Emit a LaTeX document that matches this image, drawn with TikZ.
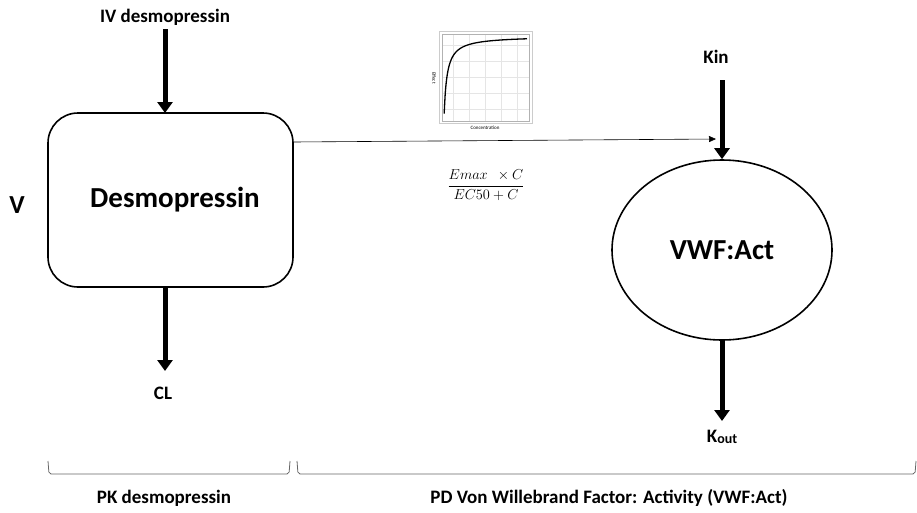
\documentclass[tikz,border=0pt]{standalone}
\usepackage{fontspec}
\setmainfont{Carlito}
\usetikzlibrary{arrows.meta,shapes.geometric}
\begin{document}
\begin{tikzpicture}[x=1pt,y=-1pt,
  lbl/.style={font=\fontsize{19}{22}\selectfont\bfseries},
  big/.style={font=\fontsize{29}{34}\selectfont\bfseries},
  thickarrow/.style={line width=5pt,-{Triangle[width=15pt,length=11pt]}},
  bracket/.style={draw=black!60,line width=0.8pt,rounded corners=2pt}]
\useasboundingbox (0,0) rectangle (917,512);
% PK box
\node[draw,line width=1.6pt,rounded corners=30pt,minimum width=245pt,minimum height=174pt,big] (box) at (170.5,200) {\hspace*{9pt}\raisebox{-3pt}{Desmopressin}};
\node[lbl] (iv) at (165,17) {IV desmopressin};
\coordinate (ivend) at (165,113);
\draw[thickarrow] (165,29) -- (ivend);
\node[big,font=\fontsize{26}{30}\selectfont\bfseries] (v) at (17,205) {V};
\node[lbl] (cl) at (163,393) {CL};
\draw[thickarrow] (165,287) -- (165,371);
% PD ellipse
\node[draw,ellipse,line width=1.6pt,minimum width=220pt,minimum height=180pt,big] (vwf) at (722,250) {VWF:Act};
\node[lbl] (kin) at (716,57) {Kin};
\draw[thickarrow] (722,80) -- (vwf.north);
\node[lbl] (kout) at (722,437) {K{\fontsize{14}{15}\selectfont\raisebox{-1pt}{out}}};
\draw[thickarrow] (vwf.south) -- (722,421);
% connector
\coordinate (conn) at (716,139);
\draw[line width=0.6pt,-{Triangle[width=6pt,length=7pt]}] (293,142) -- (conn);
% small plot
\begin{scope}
\draw[black!20,line width=0.5pt] (439,31) rectangle (532,123);
\foreach \x in {453,469,485,501,517} \draw[black!10,line width=0.3pt] (\x,34) -- (\x,121);
\foreach \y in {45,61,77,93,109} \draw[black!10,line width=0.3pt] (442,\y) -- (529,\y);
\draw[black!30,line width=0.4pt] (442,34) rectangle (529,121);
\draw[line width=1.3pt,domain=0.02:10,samples=80,smooth] plot ({444+8.3*\x},{118-82*(\x/(\x+0.35))});
\node[font=\fontsize{5}{6}\selectfont] (conc) at (485,128) {Concentration};
\node[font=\fontsize{5}{6}\selectfont,rotate=-90] (eff) at (434,78) {Effect};
\end{scope}
% formula
\node (formula) at (486,185) {\fontsize{15}{18}\selectfont$\displaystyle\frac{Emax\ \ \times C}{EC50+C}$};
% brackets
\draw[bracket] (48,461) -- (49,474) -- (289,474) -- (290,461);
\draw[bracket] (297,461) -- (298,474) -- (915,474) -- (916,461);
\node[lbl] (pk) at (164,498) {PK desmopressin};
\node[lbl] (pd) at (609,498) {PD Von Willebrand Factor: Activity (VWF:Act)};
\end{tikzpicture}
\end{document}
